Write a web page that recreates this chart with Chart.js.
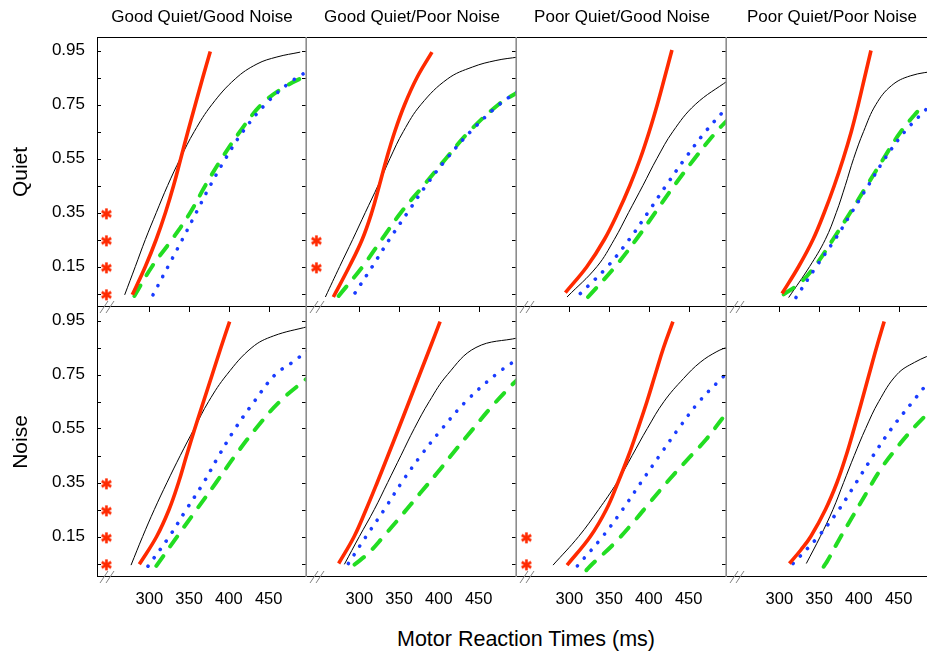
<!DOCTYPE html>
<html>
<head>
<meta charset="utf-8">
<script src="https://cdn.jsdelivr.net/npm/chart.js@4.4.1/dist/chart.umd.min.js"></script>
<style>
  html, body { margin: 0; padding: 0; background: #fff; }
  #page { position: relative; width: 927px; height: 652px; overflow: hidden; font-family: "Liberation Sans", Arial, sans-serif; }
  .panel { position: absolute; }
  #xTitle { position: absolute; left: 326px; width: 400px; top: 627px; text-align: center; font-size: 21.5px; line-height: 25px; color: #000; }
</style>
</head>
<body>
<div id="page">
  <div id="xTitle">Motor Reaction Times (ms)</div>
</div>
<script>
// categories / labels
const columns = ['Good Quiet/Good Noise', 'Good Quiet/Poor Noise', 'Poor Quiet/Good Noise', 'Poor Quiet/Poor Noise'];
const rows = ['Quiet', 'Noise'];
const xTicks = [300, 350, 400, 450];
const yTicks = [0.05, 0.15, 0.25, 0.35, 0.45, 0.55, 0.65, 0.75, 0.85, 0.95];
const yLabelTicks = [0.15, 0.35, 0.55, 0.75, 0.95];

// curves: [reaction time ms, proportion]
// Quiet row
const q1Red = [[278.6,0.045],[295,0.15],[308.6,0.25],[320.3,0.35],[330.5,0.45],[339.5,0.55],[348.5,0.65],[357.8,0.75],[367.2,0.85],[376.6,0.946]];
const q1Black = [[269,0.045],[282.4,0.15],[295,0.25],[308.8,0.35],[323,0.45],[338.9,0.55],[356.5,0.65],[378.7,0.75],[408,0.845],[435.3,0.9],[460.4,0.926],[489.7,0.944]];
const q1Blue = [[304.6,0.045],[323.5,0.15],[341.5,0.25],[359,0.35],[376.6,0.45],[395.9,0.55],[417.7,0.65],[445.7,0.75],[474.2,0.826],[500,0.876]];
const q1Green = [[281.2,0.041],[303.4,0.15],[328.5,0.25],[351.5,0.35],[370.4,0.45],[391,0.55],[414,0.65],[441,0.75],[470,0.815],[500,0.86]];

const q2Red = [[267.3,0.037],[287.4,0.15],[303.6,0.25],[315.6,0.35],[325.1,0.45],[334.3,0.55],[344.6,0.65],[357,0.75],[372.5,0.85],[391.3,0.944]];
const q2Black = [[257.3,0.037],[275.3,0.15],[291.6,0.25],[307.5,0.35],[323.5,0.45],[338.5,0.55],[355.3,0.65],[377.5,0.75],[411,0.845],[442.4,0.889],[471.7,0.913],[500,0.926]];
const q2Blue = [[294.6,0.052],[316.3,0.15],[337.7,0.25],[360.7,0.35],[383.8,0.45],[410.1,0.55],[439.9,0.65],[475.9,0.75],[500,0.8]];
const q2Green = [[274,0.041],[304.2,0.15],[328.1,0.25],[352.3,0.35],[380.8,0.45],[408.9,0.55],[438.2,0.65],[475,0.75],[500,0.797]];

const q3Red = [[295,0.053],[322.2,0.15],[344,0.25],[361.1,0.35],[376.1,0.45],[389.2,0.55],[400.5,0.65],[410.6,0.75],[419.8,0.85],[429,0.952]];
const q3Black = [[297.1,0.037],[334.8,0.15],[356.5,0.25],[374.5,0.35],[392.5,0.45],[410.1,0.55],[430.2,0.65],[458.3,0.75],[500,0.84]];
const q3Blue = [[313.8,0.05],[348,0.15],[375.3,0.25],[398.8,0.35],[421.7,0.45],[445.5,0.55],[471.3,0.65],[500,0.745]];
const q3Green = [[323.5,0.037],[357.7,0.15],[384,0.25],[408,0.35],[432,0.45],[457.5,0.55],[485,0.65],[500,0.696]];

const q4Red = [[303.4,0.05],[324.3,0.15],[342.3,0.25],[356.5,0.35],[369.1,0.45],[380.4,0.55],[390.5,0.65],[399.2,0.75],[407.2,0.85],[415.2,0.95]];
const q4Black = [[311.7,0.035],[338.1,0.15],[357.8,0.25],[371.6,0.35],[382.9,0.45],[393.4,0.55],[405.9,0.65],[421.4,0.75],[441,0.82],[464.6,0.856],[500,0.876]];
const q4Blue = [[320.9,0.035],[346.5,0.15],[369.9,0.25],[390.9,0.35],[411.8,0.45],[432.8,0.55],[457.9,0.65],[484.3,0.731],[500,0.775]];
const q4Green = [[305.4,0.047],[326.4,0.09],[344.4,0.15],[367.4,0.25],[389.2,0.35],[410.1,0.45],[431.1,0.55],[452.9,0.65],[479.2,0.743]];

// Noise row
const n1Red = [[287.4,0.047],[309.2,0.15],[324.8,0.25],[336.7,0.35],[346.8,0.45],[357.2,0.55],[368.1,0.65],[379.1,0.75],[390,0.85],[400.9,0.946]];
const n1Black = [[277,0.044],[291.6,0.15],[306.3,0.25],[322.2,0.35],[338.9,0.45],[356.5,0.55],[374.5,0.65],[397.6,0.75],[429,0.85],[456.2,0.893],[500,0.928]];
const n1Blue = [[298.3,0.04],[325.1,0.15],[346.5,0.25],[368.3,0.35],[387.5,0.45],[408,0.55],[431.9,0.65],[458.3,0.75],[478.8,0.793],[500,0.84]];
const n1Green = [[308.8,0.041],[335,0.15],[359.5,0.25],[384,0.35],[408,0.45],[434,0.55],[464,0.65],[500,0.74]];

const n2Red = [[274,0.05],[293.5,0.15],[308.5,0.25],[322.5,0.35],[336,0.45],[349.4,0.55],[362.6,0.65],[375.8,0.75],[389,0.85],[401.5,0.946]];
const n2Black = [[281.2,0.047],[300,0.15],[318.8,0.25],[335.6,0.35],[352.3,0.45],[369.1,0.55],[387.9,0.65],[410.9,0.75],[446.6,0.85],[500,0.886]];
const n2Blue = [[286.2,0.05],[308.4,0.15],[331.4,0.25],[353.2,0.35],[377.4,0.45],[404.2,0.55],[433.9,0.65],[471.6,0.75],[500,0.81]];
const n2Green = [[294,0.046],[312,0.09],[329.5,0.147],[352.8,0.227],[375.8,0.308],[398,0.386],[419.4,0.465],[441.4,0.543],[464,0.623],[486.4,0.695],[500,0.735]];

const n3Red = [[297.1,0.044],[326.4,0.15],[346.5,0.25],[361.1,0.35],[374.5,0.45],[386.3,0.55],[397.6,0.65],[408,0.75],[418.5,0.85],[430.2,0.946]];
const n3Black = [[279.5,0.044],[311.7,0.15],[336.9,0.25],[359.9,0.35],[379,0.45],[398,0.55],[419,0.65],[443.5,0.735],[464.5,0.795],[485.5,0.835],[500,0.853]];
const n3Blue = [[310.1,0.041],[341.9,0.15],[367,0.25],[390,0.35],[413.5,0.45],[437.4,0.55],[463.3,0.65],[491.4,0.736],[500,0.76]];
const n3Green = [[321.4,0.025],[328.9,0.048],[355.7,0.122],[380.8,0.204],[402.6,0.281],[426,0.362],[448.7,0.436],[472.1,0.51],[492.6,0.588],[500,0.612]];

const n4Red = [[312.6,0.05],[327,0.1],[339.5,0.15],[358,0.25],[372.5,0.35],[384,0.45],[394,0.55],[403.5,0.65],[412.8,0.75],[422.2,0.85],[431.8,0.946]];
const n4Black = [[333.9,0.05],[351.5,0.15],[367.4,0.25],[380.8,0.35],[394.2,0.45],[408.5,0.55],[425,0.65],[447.8,0.75],[470,0.795],[500,0.835]];
const n4Blue = [[317.2,0.05],[349,0.15],[375,0.25],[396.7,0.35],[418.1,0.45],[441.1,0.55],[467.9,0.65],[485.5,0.714],[500,0.76]];
const n4Green = [[355.7,0.038],[360.7,0.061],[375.4,0.14],[392.1,0.224],[408,0.304],[425.6,0.391],[444.5,0.467],[465.4,0.541],[485.5,0.603],[500,0.645]];

// significance asterisks (proportion levels)
const starX = 246;
const q1Stars = [0.345, 0.245, 0.145, 0.045];
const q2Stars = [0.245, 0.145];
const n1Stars = [0.345, 0.245, 0.145, 0.045];
const n3Stars = [0.145, 0.045];

const panels = [
  { row: 0, col: 0, red: q1Red, black: q1Black, blue: q1Blue, green: q1Green, stars: q1Stars },
  { row: 0, col: 1, red: q2Red, black: q2Black, blue: q2Blue, green: q2Green, stars: q2Stars },
  { row: 0, col: 2, red: q3Red, black: q3Black, blue: q3Blue, green: q3Green, stars: [] },
  { row: 0, col: 3, red: q4Red, black: q4Black, blue: q4Blue, green: q4Green, stars: [] },
  { row: 1, col: 0, red: n1Red, black: n1Black, blue: n1Blue, green: n1Green, stars: n1Stars },
  { row: 1, col: 1, red: n2Red, black: n2Black, blue: n2Blue, green: n2Green, stars: [] },
  { row: 1, col: 2, red: n3Red, black: n3Black, blue: n3Blue, green: n3Green, stars: n3Stars },
  { row: 1, col: 3, red: n4Red, black: n4Black, blue: n4Blue, green: n4Green, stars: [] }
];

const RED = '#ff2a00', BLUE = '#1a3cff', GREEN = '#22dd22';
const PLOT_L = 97, PLOT_W = 210, TITLE_H = 37, PLOT_H = 270, XAXIS_H = 45;
const X_MIN = 234.2, X_MAX = 498.2;

Chart.defaults.font.family = '"Liberation Sans", Arial, sans-serif';
Chart.defaults.color = '#000';

// asterisk marker
const starImg = document.createElement('canvas');
starImg.width = 13; starImg.height = 13;
(function () {
  const g = starImg.getContext('2d');
  g.strokeStyle = RED;
  g.lineWidth = 2.6;
  for (let k = 0; k < 3; k++) {
    const a = Math.PI / 2 + k * Math.PI / 3;
    g.beginPath();
    g.moveTo(6.5 + 5.5 * Math.cos(a), 6.5 - 5.5 * Math.sin(a));
    g.lineTo(6.5 - 5.5 * Math.cos(a), 6.5 + 5.5 * Math.sin(a));
    g.stroke();
  }
})();

// frame, inward ticks and axis-break marks
const framePlugin = {
  id: 'frame',
  afterDatasetsDraw(chart, args, opts) {
    const { ctx, chartArea: a, scales: { x, y } } = chart;
    const L = Math.round(a.left), R = Math.round(a.right), T = Math.round(a.top), B = Math.round(a.bottom);
    ctx.save();
    ctx.strokeStyle = '#000';
    ctx.lineWidth = 1;
    ctx.beginPath();
    if (opts.row === 0) { ctx.moveTo(L, T + 0.5); ctx.lineTo(R, T + 0.5); }
    ctx.moveTo(L, B - 0.5); ctx.lineTo(R, B - 0.5);
    if (opts.col === 0) { ctx.moveTo(L + 0.5, T); ctx.lineTo(L + 0.5, B); }
    yTicks.forEach(v => {
      const p = Math.round(y.getPixelForValue(v)) + 0.5;
      ctx.moveTo(R - 1, p); ctx.lineTo(R - 5, p);
      if (opts.col === 0) { ctx.moveTo(L, p); ctx.lineTo(L + 4, p); }
    });
    if (opts.row === 1) {
      xTicks.forEach(v => {
        const p = Math.round(x.getPixelForValue(v)) + 0.5;
        ctx.moveTo(p, T); ctx.lineTo(p, T + 5);
      });
    }
    ctx.stroke();

    ctx.strokeStyle = '#8c8c8c';
    ctx.lineWidth = 1.6;
    ctx.beginPath();
    ctx.moveTo(R - 0.8, T); ctx.lineTo(R - 0.8, B);
    ctx.stroke();

    ctx.strokeStyle = '#808080';
    ctx.lineWidth = 1;
    const edges = opts.row === 1 ? [T, B] : [B];
    ctx.beginPath();
    edges.forEach(e => {
      for (let i = 0; i < 2; i++) {
        ctx.moveTo(L + 3 + 6 * i, e + 6);
        ctx.lineTo(L + 11 + 6 * i, e - 6);
      }
    });
    ctx.stroke();
    ctx.restore();
  }
};

function curve(points, color, width, dash) {
  return {
    type: 'line',
    data: points.map(p => ({ x: p[0], y: p[1] })),
    borderColor: color,
    borderWidth: width,
    borderDash: dash,
    borderCapStyle: dash.length ? 'round' : 'butt',
    borderJoinStyle: 'round',
    pointRadius: 0,
    fill: false,
    tension: 0.4
  };
}

const page = document.getElementById('page');
panels.forEach(p => {
  const left = p.col === 0 ? 0 : PLOT_L + PLOT_W * p.col;
  const top = p.row === 0 ? 0 : TITLE_H + PLOT_H;
  const w = PLOT_W + (p.col === 0 ? PLOT_L : 0);
  const h = PLOT_H + (p.row === 0 ? TITLE_H : XAXIS_H);
  const div = document.createElement('div');
  div.className = 'panel';
  div.style.left = left + 'px';
  div.style.top = top + 'px';
  div.style.width = w + 'px';
  div.style.height = h + 'px';
  const canvas = document.createElement('canvas');
  canvas.width = w;
  canvas.height = h;
  div.appendChild(canvas);
  page.appendChild(div);

  new Chart(canvas.getContext('2d'), {
    type: 'line',
    data: {
      datasets: [
        curve(p.red, RED, 3.6, []),
        curve(p.blue, BLUE, 3.6, [0.1, 10.3]),
        curve(p.green, GREEN, 4, [12, 12]),
        curve(p.black, '#000', 1, []),
        {
          type: 'scatter',
          data: p.stars.map(v => ({ x: starX, y: v })),
          pointStyle: starImg,
          pointRadius: 6,
          showLine: false
        }
      ]
    },
    options: {
      responsive: false,
      animation: false,
      events: [],
      layout: { padding: 0, autoPadding: false },
      plugins: {
        legend: { display: false },
        tooltip: { enabled: false },
        title: {
          display: p.row === 0,
          text: columns[p.col],
          fullSize: false,
          color: '#000',
          font: { size: 17, weight: 'normal' },
          padding: { top: 7.3, bottom: 9.3 }
        },
        frame: { row: p.row, col: p.col }
      },
      scales: {
        x: {
          type: 'linear',
          min: X_MIN,
          max: X_MAX,
          display: p.row === 1,
          afterBuildTicks: s => { s.ticks = xTicks.map(v => ({ value: v })); },
          ticks: { autoSkip: false, maxRotation: 0, padding: 13, color: '#000', font: { size: 16.5 }, callback: v => String(v) },
          grid: { display: false, drawTicks: false },
          border: { display: false },
          afterFit: s => { s.height = p.row === 1 ? XAXIS_H : 0; s.paddingLeft = 0; s.paddingRight = 0; }
        },
        y: {
          type: 'linear',
          min: 0,
          max: 1,
          display: p.col === 0,
          afterBuildTicks: s => { s.ticks = yLabelTicks.map(v => ({ value: v })); },
          ticks: { autoSkip: false, padding: 12, color: '#000', font: { size: 17 }, callback: v => v.toFixed(2) },
          grid: { display: false, drawTicks: false },
          border: { display: false },
          title: { display: true, text: rows[p.row], color: '#000', font: { size: 21 }, padding: { top: 9, bottom: 0 } },
          afterFit: s => { s.width = p.col === 0 ? PLOT_L : 0; s.paddingTop = 0; s.paddingBottom = 0; }
        }
      }
    },
    plugins: [framePlugin]
  });
});
</script>
</body>
</html>
